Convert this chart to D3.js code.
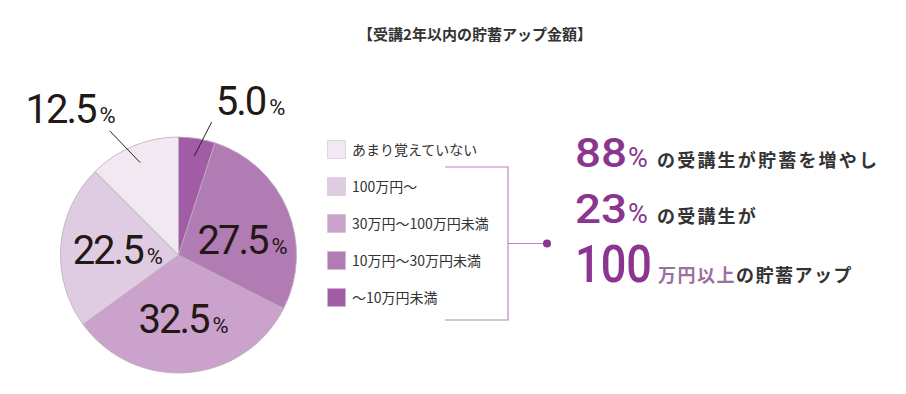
<!DOCTYPE html>
<html>
<head>
<meta charset="utf-8">
<script src="https://cdn.jsdelivr.net/npm/d3@7"></script>
<style>
    html, body { margin: 0; padding: 0; background: #fff; }
    svg { display: block; }
    .jp { font-family: 'Noto Sans CJK JP', sans-serif; }
    .num { font-family: 'Roboto', sans-serif; }
</style>
</head>
<body>
<div id="chart"></div>
<script>
// data (legend order, top to bottom)
const categories = ['あまり覚えていない', '100万円～', '30万円～100万円未満', '10万円～30万円未満', '～10万円未満']
const shares = [12.5, 22.5, 32.5, 27.5, 5.0]
const colors = ['#f2e8f2', '#e0cce2', '#caa2cc', '#b07cb3', '#a25ca6']
const title = '【受講2年以内の貯蓄アップ金額】'

// right side summary
const highlights = [
    { value: '88', unit: '%', rest: 'の受講生が貯蓄を増やし' },
    { value: '23', unit: '%', rest: 'の受講生が' },
    { value: '100', unit: '万円以上', rest: 'の貯蓄アップ' }
]

const width = 906
const height = 394
const cx = 178.5
const cy = 255
const radius = 118

const svg = d3.select('#chart').append('svg').attr('width', width).attr('height', height)

// title
svg.append('text')
    .attr('class', 'jp')
    .attr('x', 475)
    .attr('y', 40)
    .attr('text-anchor', 'middle')
    .attr('font-size', 15)
    .attr('font-weight', 700)
    .attr('fill', '#333')
    .text(title)

// pie: clockwise from 12 o'clock, darkest first
const slices = categories.map((c, i) => ({ name: c, value: shares[i], color: colors[i] })).reverse()
const pie = d3.pie().sort(null).value((d) => d.value)
const arcs = pie(slices)
const arc = d3.arc().innerRadius(0).outerRadius(radius)

const g = svg.append('g').attr('transform', `translate(${cx}, ${cy})`)

g.selectAll('path')
    .data(arcs)
    .enter()
    .append('path')
    .attr('d', arc)
    .attr('fill', (d) => d.data.color)
    .attr('stroke', '#b9adb9')
    .attr('stroke-width', 0.8)

const polar = (r, a) => [r * Math.sin(a), -r * Math.cos(a)]
const deg = Math.PI / 180

// label placement (inside: radius + nudge, outside: leader line)
const labelOpts = {
    '～10万円未満': { outside: true, endR: 137, endA: 14, tx: 39, ty: -21 },
    '10万円～30万円未満': { r: 65, dx: 4, dy: 10 },
    '30万円～100万円未満': { r: 64, dx: 0, dy: 0 },
    '100万円～': { r: 61, dx: 0, dy: 0 },
    'あまり覚えていない': { outside: true, endR: 142, endA: 331, tx: -39, ty: -22 }
}

arcs.forEach((d) => {
    const o = labelOpts[d.data.name]
    const mid = (d.startAngle + d.endAngle) / 2
    let x, y
    if (o.outside) {
        const p1 = polar(100, mid)
        const p2 = polar(o.endR, o.endA * deg)
        g.append('line')
            .attr('x1', p1[0]).attr('y1', p1[1])
            .attr('x2', p2[0]).attr('y2', p2[1])
            .attr('stroke', '#222')
            .attr('stroke-width', 1)
        x = p2[0] + o.tx
        y = p2[1] + o.ty
    } else {
        const p = polar(o.r, mid)
        x = p[0] + o.dx
        y = p[1] + o.dy
    }
    const t = g.append('text')
        .attr('x', x)
        .attr('y', y + 14)
        .attr('text-anchor', 'middle')
        .attr('fill', '#231815')
    t.append('tspan').attr('class', 'num').attr('font-size', 40).style('letter-spacing', '-2px').text(d.data.value.toFixed(1))
    t.append('tspan').attr('class', 'num').attr('font-size', 22).attr('dx', 4).text('%')
})

// legend
const ly = d3.scalePoint().domain(categories).range([150, 298])
const legend = svg.append('g')
categories.forEach((c, i) => {
    legend.append('rect')
        .attr('x', 327.5)
        .attr('y', ly(c) - 9.5)
        .attr('width', 18)
        .attr('height', 18)
        .attr('fill', colors[i])
        .attr('stroke', '#c4bcc4')
        .attr('stroke-width', 1)
        .attr('stroke-dasharray', '1,1')
    legend.append('text')
        .attr('class', 'jp')
        .attr('x', 352)
        .attr('y', ly(c) + 5)
        .attr('font-size', 14)
        .attr('fill', '#333')
        .text(c)
})

// bracket
const bTop = 167
const bBot = 320
const bx = 508
const bracket = svg.append('g').attr('stroke', '#b986bc').attr('stroke-width', 1.2).attr('fill', 'none')
bracket.append('path').attr('d', `M445,${bTop}H${bx}V${bBot}H445`)
bracket.append('line').attr('x1', bx).attr('y1', (bTop + bBot) / 2).attr('x2', 547).attr('y2', (bTop + bBot) / 2)
svg.append('circle').attr('cx', 547).attr('cy', (bTop + bBot) / 2).attr('r', 4).attr('fill', '#8b3590')

// summary text
const rowY = [167, 223, 282]
const numSize = [40, 40, 52]
const numLen = [52, 52, 77]
highlights.forEach((h, i) => {
    svg.append('text')
        .attr('x', 575)
        .attr('y', rowY[i])
        .attr('font-family', 'Roboto, sans-serif')
        .attr('font-weight', 500)
        .attr('font-size', numSize[i])
        .attr('fill', '#8b3590')
        .attr('textLength', numLen[i])
        .attr('lengthAdjust', 'spacingAndGlyphs')
        .text(h.value)
    if (h.unit === '%') {
        svg.append('text')
            .attr('x', 628)
            .attr('y', rowY[i])
            .attr('font-family', 'Roboto, sans-serif')
            .attr('font-size', 27)
            .attr('fill', '#8b3590')
            .text(h.unit)
        svg.append('text')
            .attr('class', 'jp')
            .attr('x', 657)
            .attr('y', rowY[i])
            .attr('font-size', 18)
            .attr('font-weight', 700)
            .style('letter-spacing', '2.2px')
            .attr('fill', '#333')
            .text(h.rest)
    } else {
        const t = svg.append('text')
            .attr('class', 'jp')
            .attr('x', 658)
            .attr('y', rowY[i])
            .attr('font-size', 18)
            .attr('font-weight', 700)
            .style('letter-spacing', '1.5px')
        t.append('tspan').attr('fill', '#9a70a0').text(h.unit)
        t.append('tspan').attr('fill', '#333').text(h.rest)
    }
})
</script>
</body>
</html>
